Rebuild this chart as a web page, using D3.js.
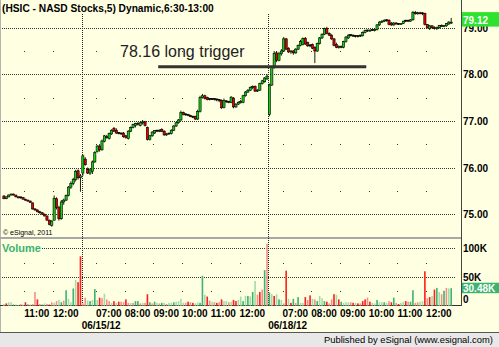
<!DOCTYPE html>
<html lang="en">
<head>
  <meta charset="UTF-8">
  <title>HSIC 5 min - long trigger</title>
  <script src="https://d3js.org/d3.v7.min.js"></script>
  <style>
    body { margin: 0; background: #fff; }
    svg { display: block; font-family: "Liberation Sans", Arial, sans-serif; }
    .lbl { font-size: 10px; font-weight: bold; fill: #000; }
  </style>
</head>
<body>
  <svg id="chart" width="499" height="347"></svg>

  <script>
    // ---- data (5 min bars, [open, high, low, close]) ----
    const dayDates = ["06/14/12", "06/15/12", "06/18/12"];
    const dayFirstBar = ["10:15", "06:30", "06:30"];

    const bars0614 = [
      [75.39,75.40,75.32,75.33],[75.33,75.38,75.32,75.37],[75.37,75.42,75.36,75.41],[75.41,75.44,75.40,75.43],
      [75.43,75.44,75.40,75.41],[75.41,75.41,75.36,75.37],[75.37,75.38,75.34,75.35],[75.35,75.37,75.33,75.36],
      [75.36,75.36,75.31,75.32],[75.32,75.33,75.29,75.30],[75.30,75.31,75.27,75.28],[75.28,75.29,75.24,75.25],
      [75.24,75.25,75.10,75.11],[75.11,75.13,75.07,75.09],[75.09,75.10,75.04,75.05],[75.05,75.07,75.01,75.03],
      [75.03,75.04,74.98,75.00],[75.00,75.01,74.95,74.96],[74.96,74.97,74.86,74.87],[74.87,74.88,74.76,74.78],
      [74.76,74.87,74.73,74.85],[74.87,75.40,74.86,75.34],[75.33,75.36,75.10,75.14],[75.14,75.18,74.86,74.90],
      [74.90,75.30,74.88,75.26],[75.26,75.33,75.20,75.30],[75.30,75.42,75.28,75.40],[75.40,75.60,75.38,75.58],
      [75.58,75.70,75.54,75.66],[75.66,75.78,75.62,75.74],[75.74,75.95,75.70,75.92],[75.93,75.96,75.74,75.78],
      [75.78,75.86,75.48,75.82]
    ];

    const bars0615 = [
      [75.88,76.28,75.82,76.25],[76.18,76.22,76.04,76.06],[75.96,76.00,75.86,75.88],[75.88,75.98,75.84,75.95],
      [75.92,76.15,75.86,76.12],[76.12,76.35,76.10,76.32],[76.34,76.48,76.32,76.46],[76.46,76.50,76.34,76.38],
      [76.38,76.60,76.36,76.57],[76.56,76.70,76.54,76.68],[76.66,76.70,76.62,76.64],[76.62,76.75,76.60,76.73],
      [76.72,76.82,76.70,76.80],[76.84,76.87,76.76,76.78],[76.80,76.84,76.72,76.74],[76.74,76.76,76.71,76.73],
      [76.73,76.75,76.70,76.72],[76.74,76.76,76.64,76.66],[76.68,76.70,76.62,76.64],[76.62,76.80,76.60,76.78],
      [76.78,76.88,76.76,76.86],[76.86,76.94,76.84,76.92],[76.90,76.96,76.86,76.94],[76.94,76.97,76.90,76.93],
      [76.90,76.98,76.88,76.96],[76.96,77.02,76.92,76.98],[76.98,77.00,76.88,76.90],[76.86,76.88,76.58,76.60],
      [76.60,76.70,76.58,76.68],[76.68,76.78,76.66,76.76],[76.74,76.80,76.72,76.79],[76.79,76.81,76.76,76.78],
      [76.78,76.82,76.76,76.80],[76.82,76.84,76.76,76.77],[76.78,76.80,76.68,76.70],[76.70,76.74,76.68,76.72],
      [76.72,76.74,76.70,76.73],[76.73,76.82,76.71,76.80],[76.80,76.91,76.78,76.89],[76.89,76.98,76.87,76.96],
      [76.96,77.04,76.94,77.02],[77.02,77.22,77.00,77.18],[77.18,77.20,77.12,77.14],[77.14,77.16,77.11,77.13],
      [77.13,77.15,77.10,77.12],[77.12,77.13,77.08,77.09],[77.09,77.11,77.06,77.08],[77.10,77.11,77.02,77.04],
      [77.04,77.24,77.02,77.20],[77.20,77.54,77.18,77.50],[77.50,77.58,77.48,77.54],[77.54,77.56,77.46,77.48],
      [77.50,77.52,77.44,77.46],[77.46,77.49,77.44,77.47],[77.47,77.49,77.45,77.46],[77.46,77.48,77.44,77.47],
      [77.46,77.48,77.42,77.45],[77.45,77.47,77.40,77.44],[77.44,77.46,77.26,77.28],[77.29,77.48,77.27,77.44],
      [77.42,77.44,77.39,77.41],[77.41,77.43,77.38,77.40],[77.40,77.53,77.38,77.51],[77.49,77.51,77.27,77.30],
      [77.30,77.38,77.28,77.36],[77.36,77.42,77.34,77.40],[77.40,77.45,77.37,77.42],[77.40,77.56,77.38,77.54],
      [77.54,77.64,77.52,77.62],[77.62,77.68,77.60,77.66],[77.66,77.74,77.64,77.72],[77.72,77.76,77.68,77.74],
      [77.74,77.76,77.62,77.64],[77.64,77.68,77.62,77.66],[77.66,77.82,77.64,77.80],[77.80,77.88,77.78,77.86],
      [77.84,77.94,77.82,77.92],[77.90,78.00,77.88,77.96]
    ];

    const bars0618 = [
      [77.14,77.80,77.10,77.77],[77.77,78.18,77.75,78.15],[78.15,78.50,78.12,78.45],[78.46,78.50,78.26,78.30],
      [78.30,78.48,78.28,78.44],[78.44,78.54,78.40,78.50],[78.50,78.80,78.48,78.76],[78.76,78.78,78.52,78.54],
      [78.56,78.58,78.46,78.48],[78.48,78.52,78.44,78.50],[78.50,78.52,78.42,78.46],[78.46,78.56,78.44,78.54],
      [78.54,78.64,78.52,78.62],[78.62,78.74,78.60,78.70],[78.64,78.79,78.62,78.77],[78.77,78.80,78.63,78.65],
      [78.68,78.70,78.59,78.61],[78.61,78.65,78.58,78.62],[78.64,78.66,78.54,78.56],[78.58,78.60,78.24,78.50],
      [78.50,78.68,78.48,78.66],[78.66,78.80,78.64,78.78],[78.78,78.88,78.76,78.86],[78.86,79.00,78.84,78.98],
      [78.98,79.02,78.86,78.88],[78.88,78.90,78.82,78.84],[78.84,78.86,78.74,78.76],[78.76,78.78,78.60,78.62],
      [78.64,78.68,78.56,78.58],[78.58,78.62,78.55,78.60],[78.60,78.62,78.56,78.58],[78.58,78.72,78.56,78.70],
      [78.70,78.82,78.68,78.80],[78.78,78.86,78.76,78.84],[78.84,78.86,78.81,78.83],[78.83,78.85,78.80,78.82],
      [78.82,78.84,78.79,78.81],[78.81,78.84,78.79,78.82],[78.82,78.85,78.80,78.83],[78.83,78.92,78.81,78.90],
      [78.90,78.96,78.88,78.94],[78.94,78.96,78.91,78.93],[78.93,78.96,78.91,78.95],[78.95,78.97,78.93,78.94],
      [78.94,78.97,78.92,78.96],[78.96,79.08,78.94,79.06],[79.06,79.14,79.04,79.12],[79.12,79.16,79.10,79.14],
      [79.14,79.18,79.12,79.16],[79.16,79.18,79.13,79.15],[79.16,79.18,79.05,79.07],[79.10,79.12,79.04,79.06],
      [79.06,79.12,79.04,79.10],[79.10,79.12,79.07,79.08],[79.08,79.10,79.06,79.07],[79.07,79.10,79.06,79.09],
      [79.09,79.15,79.08,79.14],[79.14,79.17,79.12,79.15],[79.15,79.17,79.13,79.14],[79.14,79.18,79.13,79.17],
      [79.17,79.36,79.15,79.33],[79.33,79.36,79.28,79.30],[79.30,79.34,79.28,79.32],[79.32,79.34,79.29,79.30],
      [79.30,79.33,79.27,79.31],[79.31,79.32,79.05,79.07],[79.07,79.08,78.98,79.00],[78.98,79.06,78.95,79.04],
      [79.04,79.05,78.98,79.00],[79.00,79.03,78.96,78.98],[78.98,79.02,78.95,79.01],[79.00,79.06,78.98,79.05],
      [79.05,79.07,79.02,79.03],[79.03,79.06,79.01,79.05],[79.04,79.10,79.02,79.09],[79.08,79.14,79.06,79.12],
      [79.10,79.21,79.08,79.12]
    ];

    // volume in thousands, with eSignal colour class (U/u = up strong/weak, D/d = down strong/weak)
    const vol0614 = [
      [3,"u"],[4,"D"],[6,"u"],[6,"u"],[2,"U"],[2,"u"],[1,"u"],[3,"d"],[2,"u"],[6,"D"],
      [3,"d"],[2,"u"],[3,"d"],[24,"d"],[11,"D"],[3,"d"],[2,"U"],[4,"u"],[3,"d"],[2,"D"],
      [6,"d"],[5,"u"],[8,"d"],[10,"u"],[6,"U"],[9,"d"],[27,"U"],[12,"u"],[6,"u"],[30,"U"],
      [45,"u"],[41,"D"],[86,"D"]
    ];
    const vol0615 = [
      [4,"d"],[14,"d"],[9,"u"],[8,"U"],[10,"u"],[29,"U"],[10,"u"],[14,"D"],[13,"d"],[21,"u"],
      [11,"d"],[8,"d"],[5,"u"],[8,"D"],[5,"u"],[7,"D"],[7,"d"],[6,"d"],[11,"D"],[5,"d"],
      [5,"u"],[5,"d"],[8,"U"],[8,"U"],[4,"d"],[5,"u"],[5,"d"],[20,"D"],[6,"U"],[4,"d"],
      [7,"U"],[5,"u"],[4,"d"],[5,"U"],[5,"u"],[3,"d"],[5,"u"],[5,"u"],[6,"U"],[7,"u"],
      [8,"u"],[12,"u"],[5,"u"],[5,"d"],[7,"D"],[6,"d"],[5,"D"],[4,"u"],[6,"u"],[5,"U"],
      [52,"U"],[19,"u"],[16,"D"],[9,"d"],[7,"u"],[6,"d"],[5,"D"],[6,"d"],[11,"D"],[8,"u"],
      [8,"u"],[6,"d"],[7,"u"],[10,"D"],[8,"D"],[10,"u"],[16,"u"],[8,"U"],[17,"u"],[17,"U"],
      [16,"u"],[24,"U"],[43,"u"],[19,"d"],[24,"D"],[28,"d"],[62,"U"],[108,"d"]
    ];
    const vol0618 = [
      [23,"U"],[20,"u"],[17,"D"],[20,"u"],[11,"U"],[10,"u"],[4,"d"],[61,"D"],[12,"u"],[5,"D"],
      [12,"U"],[5,"d"],[15,"U"],[5,"u"],[5,"u"],[15,"D"],[10,"d"],[18,"D"],[12,"u"],[11,"d"],
      [8,"U"],[17,"u"],[13,"u"],[8,"U"],[7,"D"],[4,"d"],[11,"d"],[20,"D"],[19,"u"],[11,"D"],
      [7,"U"],[5,"u"],[6,"u"],[6,"u"],[6,"d"],[5,"D"],[5,"u"],[4,"D"],[4,"d"],[8,"D"],
      [11,"D"],[14,"d"],[7,"D"],[5,"u"],[4,"u"],[10,"U"],[6,"u"],[6,"u"],[6,"U"],[5,"u"],
      [8,"d"],[6,"D"],[14,"U"],[5,"d"],[3,"D"],[5,"u"],[7,"u"],[8,"D"],[7,"d"],[7,"U"],
      [27,"U"],[5,"d"],[6,"d"],[7,"u"],[8,"u"],[60,"D"],[13,"d"],[15,"D"],[17,"u"],[28,"D"],
      [31,"U"],[24,"u"],[20,"d"],[26,"U"],[31,"d"],[30,"u"],[30.48,"U"]
    ];

    const priceTicks = [75, 76, 77, 78, 79];
    const volTicks = [0, 50, 100];
    const trigger = { price: 78.16, label: "78.16 long trigger", from: "06/15/12 09:10", to: "06/18/12 09:55" };
    const title = "(HSIC - NASD Stocks,5) Dynamic,6:30-13:00";

    // ---- build one bar list with time stamps ----
    const barSets = [bars0614, bars0615, bars0618];
    const volSets = [vol0614, vol0615, vol0618];
    const bars = [];
    const dayStart = [];
    barSets.forEach((set, d) => {
      const [hh, mm] = dayFirstBar[d].split(":").map(Number);
      dayStart.push(bars.length);
      set.forEach((b, k) => {
        const t = hh * 60 + mm + k * 5;
        bars.push({
          idx: bars.length, day: d, minute: t,
          open: b[0], high: b[1], low: b[2], close: b[3],
          vol: volSets[d][k][0], vclass: volSets[d][k][1]
        });
      });
    });
    const barIndexAt = s => {
      const [date, time] = s.split(" ");
      const [hh, mm] = time.split(":").map(Number);
      return bars.find(b => dayDates[b.day] === date && b.minute === hh * 60 + mm).idx;
    };

    const svg = d3.select("#chart");
    const W = 499, H = 347;
    const plot = { left: 2, right: 461 };

    // slots: a few empty slots on the right, like eSignal
    const x = d3.scaleLinear().domain([-0.3, bars.length + 3.6]).range([plot.left, plot.right]);
    const y = d3.scaleLinear().domain([75, 79]).range([214.1, 27.7]);
    const yv = d3.scaleLinear().domain([0, 100]).range([305.7, 248.3]);

    // ---- background and frames ----
    svg.append("rect").attr("width", W).attr("height", H).attr("fill", "#ffffe1");
    svg.append("rect").attr("x", 0).attr("y", 332).attr("width", W).attr("height", H - 332).attr("fill", "#e8e8e8");
    svg.append("line").attr("x1", 0).attr("x2", W).attr("y1", 332.5).attr("y2", 332.5).attr("stroke", "#555");
    svg.append("line").attr("x1", 0.5).attr("x2", 0.5).attr("y1", 0).attr("y2", 332).attr("stroke", "#b4b4b4");
    svg.append("rect").attr("x", 0).attr("y", 237).attr("width", plot.right).attr("height", 2).attr("fill", "#a8a8a8");
    svg.append("line").attr("x1", 0).attr("x2", plot.right + 1).attr("y1", 305.5).attr("y2", 305.5).attr("stroke", "#333");
    svg.append("line").attr("x1", plot.right + 0.5).attr("x2", plot.right + 0.5).attr("y1", 0).attr("y2", 306).attr("stroke", "#444");

    // ---- grid ----
    const grid = svg.append("g");
    const hourTicks = bars.filter(b => b.minute % 60 === 0 && b.idx !== dayStart[b.day]);
    const dotted = v => Math.round(v) + 0.5;
    priceTicks.forEach(v => {
      grid.append("line").attr("x1", plot.left).attr("x2", 455)
        .attr("y1", dotted(y(v))).attr("y2", dotted(y(v)))
        .attr("stroke", "#333").attr("stroke-dasharray", "1,1");
    });
    volTicks.filter(v => v > 0).forEach(v => {
      grid.append("line").attr("x1", v === 100 ? 42 : plot.left).attr("x2", 455)
        .attr("y1", dotted(yv(v))).attr("y2", dotted(yv(v)))
        .attr("stroke", "#333").attr("stroke-dasharray", "1,1");
    });
    const halfPrice = priceTicks.slice(0, -1).map(v => v + 0.5);
    const halfVol = [25, 75];
    hourTicks.forEach(b => {
      const hx = Math.round(x(b.idx));
      halfPrice.forEach(v => grid.append("rect").attr("x", hx).attr("y", Math.round(y(v))).attr("width", 1).attr("height", 1).attr("fill", "#333"));
      halfVol.forEach(v => grid.append("rect").attr("x", hx).attr("y", Math.round(yv(v))).attr("width", 1).attr("height", 1).attr("fill", "#333"));
    });
    dayStart.slice(1).forEach(i => {
      const dx = dotted(x(i));
      grid.append("line").attr("x1", dx).attr("x2", dx).attr("y1", 14).attr("y2", 305)
        .attr("stroke", "#222").attr("stroke-dasharray", "1,1");
    });

    // ---- candles ----
    const bodyW = 2.2;
    const cg = svg.append("g");
    bars.forEach(b => {
      const cx = x(b.idx + 0.5);
      cg.append("line").attr("x1", cx).attr("x2", cx)
        .attr("y1", y(b.high)).attr("y2", y(b.low))
        .attr("stroke", "#000").attr("stroke-width", 0.9);
      const top = y(Math.max(b.open, b.close)), bot = y(Math.min(b.open, b.close));
      const doji = Math.abs(b.close - b.open) < 0.015;
      cg.append("rect")
        .attr("x", cx - bodyW / 2).attr("width", bodyW)
        .attr("y", doji ? top - 0.5 : top).attr("height", doji ? 1 : Math.max(1, bot - top))
        .attr("fill", doji ? "#000" : (b.close > b.open ? "#10d010" : "#e00000"))
        .attr("stroke", "#000").attr("stroke-width", 0.6);
    });

    // ---- trigger line + note ----
    svg.append("line")
      .attr("x1", x(barIndexAt(trigger.from))).attr("x2", x(barIndexAt(trigger.to)))
      .attr("y1", y(trigger.price)).attr("y2", y(trigger.price))
      .attr("stroke", "#333").attr("stroke-width", 3);
    svg.append("text").attr("x", 120).attr("y", y(trigger.price) - 9.5)
      .attr("font-size", "16px").attr("fill", "#222").text(trigger.label);

    // ---- volume ----
    const volColor = { U: "#3cb371", u: "#a3dcaa", D: "#ff1c1c", d: "#f29088" };
    const vg = svg.append("g");
    bars.forEach(b => {
      const cx = x(b.idx + 0.5);
      vg.append("rect").attr("x", cx - 0.8).attr("width", 1.6)
        .attr("y", yv(b.vol)).attr("height", yv(0) - yv(b.vol))
        .attr("fill", volColor[b.vclass]);
    });

    // ---- right axis labels ----
    priceTicks.forEach(v => {
      svg.append("text").attr("class", "lbl").attr("x", 463).attr("y", y(v) + 4).text(v.toFixed(2));
    });
    volTicks.forEach(v => {
      svg.append("text").attr("class", "lbl").attr("x", 463).attr("y", v === 0 ? yv(v) - 2.5 : yv(v) + 4)
        .text(v === 0 ? "0" : v + "K");
    });
    const last = bars[bars.length - 1];
    svg.append("rect").attr("x", 462).attr("y", y(last.close) - 10).attr("width", 37).attr("height", 14.5).attr("fill", "#2fe22f");
    svg.append("text").attr("class", "lbl").attr("x", 463).attr("y", y(last.close) + 2)
      .style("fill", "#fff").text(last.close.toFixed(2));
    svg.append("rect").attr("x", 462).attr("y", yv(last.vol) - 5.5).attr("width", 37).attr("height", 10.5).attr("fill", "#3cb371");
    svg.append("text").attr("class", "lbl").attr("x", 463).attr("y", yv(last.vol) + 4)
      .style("fill", "#fff").text(last.vol.toFixed(2) + "K");

    // ---- time axis ----
    hourTicks.forEach(b => {
      svg.append("text").attr("class", "lbl").attr("x", x(b.idx)).attr("y", 316.5)
        .text(String(Math.floor(b.minute / 60)).padStart(2, "0") + ":00");
    });
    dayStart.slice(1).forEach(i => {
      svg.append("text").attr("class", "lbl").attr("x", x(i)).attr("y", 329).text(dayDates[bars[i].day]);
    });

    // ---- titles ----
    svg.append("text").attr("class", "lbl").attr("x", 2).attr("y", 11.5).style("font-size", "10.2px").text(title);
    svg.append("text").attr("x", 2).attr("y", 251.5).attr("font-size", "11px").attr("font-weight", "bold")
      .attr("fill", "#3cb371").text("Volume");
    svg.append("text").attr("x", 3).attr("y", 235).attr("font-size", "7px").attr("fill", "#000").text("\u00a9 eSignal, 2011");
    svg.append("text").attr("x", 324).attr("y", 343).attr("font-size", "9.4px").attr("fill", "#000")
      .text("Published by eSignal (www.esignal.com)");
  </script>
</body>
</html>
